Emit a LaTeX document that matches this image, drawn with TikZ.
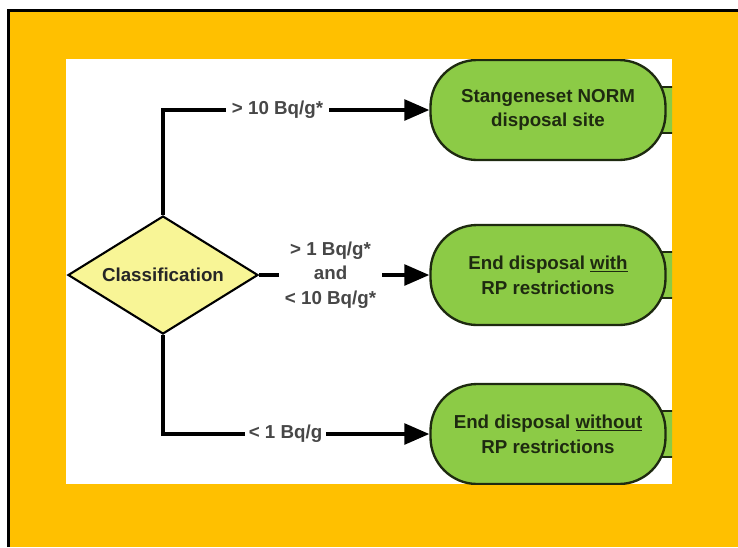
\documentclass[tikz,border=0pt]{standalone}
\usepackage{fontspec}
\setmainfont{Liberation Sans}
\usetikzlibrary{shapes.geometric,arrows.meta}
\definecolor{slideorange}{HTML}{FFC000}
\definecolor{boxgreen}{HTML}{8CCB46}
\definecolor{boxline}{HTML}{1E2A10}
\definecolor{diayellow}{HTML}{F8F596}
\begin{document}
\begin{tikzpicture}[x=0.03cm,y=-0.03cm,
  every node/.style={font=\bfseries\fontsize{16}{21}\selectfont},
  decision/.style={diamond, aspect=1.6, draw=black, line width=1.8pt, fill=diayellow,
    minimum width=5.7cm, minimum height=3.54cm, inner sep=0pt, text=black!85},
  outcome/.style={draw=boxline, line width=2pt, fill=boxgreen,
    rounded corners=1.4cm, minimum width=7.05cm, minimum height=3cm,
    align=center, text=boxline},
  flow/.style={line width=3.2pt, -{Triangle[length=0.75cm,width=0.62cm]}},
  cut/.style={fill=white, text=black!72, align=center, inner xsep=0.17cm, inner ysep=1pt}]
  % slide background
  \useasboundingbox (0,0) rectangle (738,547);
  \fill[white] (0,0) rectangle (738,547);
  \fill[slideorange] (9,11) rectangle (738,547);
  \draw[line width=2.6pt] (8.5,547) |- (738,10.5);
  \fill[white] (66,59) rectangle (672,484);

  % outcome boxes, cut by the panel edge
  \begin{scope}
    \clip (66,59) rectangle (672,484);
    \foreach \ty in {110,275,434}
      \filldraw[fill=boxgreen, draw=boxline, line width=2pt]
        (640,\ty-23) rectangle (700,\ty+23);
    \node[outcome] (norm) at (548,110) {Stangeneset NORM\\disposal site};
    \node[outcome] (with) at (548,275) {End disposal \underline{with}\\RP restrictions};
    \node[outcome] (without) at (548,434) {End disposal \underline{without}\\RP restrictions};
  \end{scope}

  \node[decision] (class) at (163,275) {Classification};

  % connectors
  \draw[flow] (class.north) |- node[cut, pos=0.715] {> 10 Bq/g*} (norm.west);
  \draw[flow] (class.east) -- node[cut, pos=0.42] {> 1 Bq/g*\\and\\< 10 Bq/g*} (with.west);
  \draw[flow] (class.south) |- node[cut, pos=0.73, inner xsep=0.12cm] {< 1 Bq/g} (without.west);
\end{tikzpicture}
\end{document}
